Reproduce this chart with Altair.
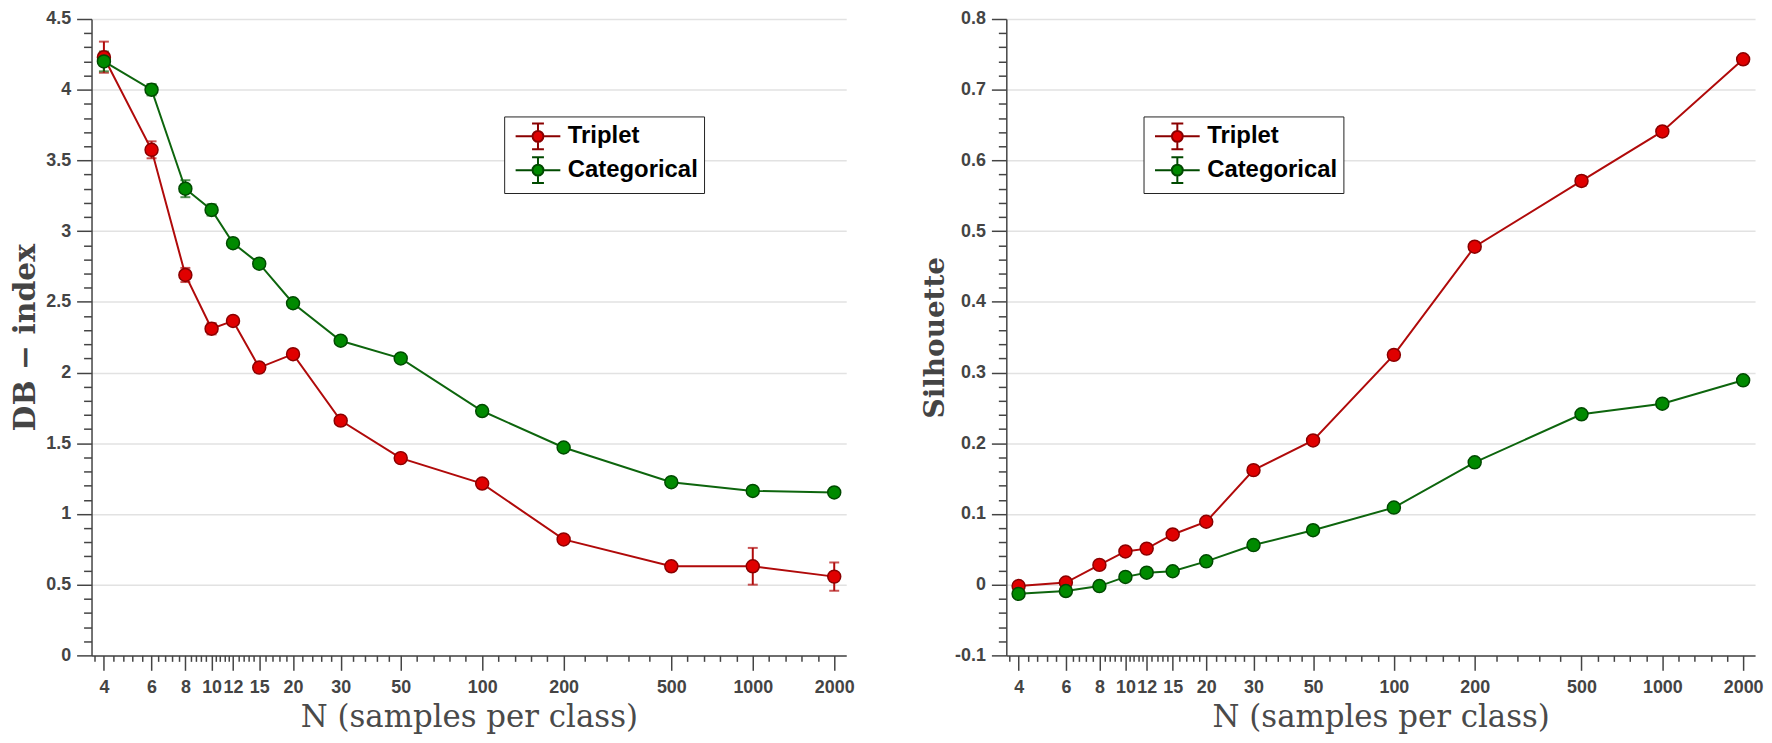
import altair as alt
import pandas as pd

# ---------------- data ----------------
N = [4, 6, 8, 10, 12, 15, 20, 30, 50, 100, 200, 500, 1000, 2000]
series_names = ["Triplet", "Categorical"]

db_triplet = [4.23, 3.575, 2.69, 2.31, 2.365, 2.035, 2.13, 1.66, 1.395, 1.215, 0.82, 0.63, 0.63, 0.557]
db_triplet_err = [0.11, 0.06, 0.05, 0.04, 0.02, 0.03, 0.02, 0.02, 0.02, 0.02, 0.02, 0.02, 0.13, 0.10]
db_categorical = [4.20, 4.00, 3.30, 3.15, 2.915, 2.77, 2.49, 2.225, 2.10, 1.728, 1.47, 1.225, 1.163, 1.152]
db_categorical_err = [0.07, 0.04, 0.06, 0.04, 0.03, 0.03, 0.03, 0.02, 0.02, 0.02, 0.02, 0.02, 0.02, 0.015]

sil_triplet = [-0.002, 0.003, 0.028, 0.047, 0.051, 0.071, 0.089, 0.162, 0.204, 0.325, 0.478, 0.571, 0.641, 0.743]
sil_triplet_err = [0.004, 0.004, 0.004, 0.004, 0.004, 0.004, 0.004, 0.004, 0.004, 0.005, 0.006, 0.007, 0.006, 0.006]
sil_categorical = [-0.013, -0.009, -0.002, 0.011, 0.017, 0.019, 0.033, 0.056, 0.077, 0.109, 0.173, 0.241, 0.256, 0.289]
sil_categorical_err = [0.004, 0.004, 0.004, 0.004, 0.004, 0.004, 0.004, 0.004, 0.004, 0.004, 0.004, 0.004, 0.004, 0.004]

x_major = [4, 6, 8, 10, 12, 15, 20, 30, 50, 100, 200, 500, 1000, 2000]


def make_df(trip, trip_err, cat, cat_err):
    rows = []
    for name, vals, errs in (("Triplet", trip, trip_err), ("Categorical", cat, cat_err)):
        for n, v, e in zip(N, vals, errs):
            rows.append({"N": n, "value": v, "lo": v - e, "hi": v + e, "series": name})
    return pd.DataFrame(rows)


df_db = make_df(db_triplet, db_triplet_err, db_categorical, db_categorical_err)
df_sil = make_df(sil_triplet, sil_triplet_err, sil_categorical, sil_categorical_err)

# ---------------- styling ----------------
# line colours (scale domain is data-sorted: Categorical, Triplet)
LINE_COLORS_SORTED = ["#0d650d", "#b00a0a"]
FILL_COLORS = ["#e00000", "#008a00"]
MARK_STROKE = ["#8a0000", "#004a00"]

AX_COLOR = "#444444"
LABEL_FONT = "Liberation Sans"
TITLE_FONT = "DejaVu Serif"

# minor x ticks: four per interval between labelled ticks (log-evenly spaced)
x_minor = [3.69]
for a, b in zip(x_major[:-1], x_major[1:]):
    for k in range(1, 5):
        x_minor.append(round(a * (b / a) ** (k / 5), 4))
x_values = sorted(x_major + x_minor)
x_test = "indexof([" + ",".join(str(v) for v in x_major) + "], datum.value) >= 0"

# legend glyph: line + error bar with caps + filled circle (unit = half symbol size)
LEG_PATH = ("M-1.73,0L-0.42,0M0.42,0L1.73,0"
            "M0,-0.42L0,-1M-0.46,-1L0.46,-1"
            "M0,0.42L0,1M-0.46,1L0.46,1"
            "M-0.42,0A0.42,0.42 0 1,0 0.42,0A0.42,0.42 0 1,0 -0.42,0Z")


def x_axis():
    return alt.Axis(
        values=x_values,
        labelExpr=f"{x_test} ? toString(datum.value) : ''",
        tickSize={"condition": {"test": x_test, "value": 15}, "value": 6},
        labelOverlap=False,
        labelBound=False,
        labelFlush=False,
        grid=False,
        labelPadding=8,
        title="N (samples per class)",
        titleFont=TITLE_FONT,
        titleFontSize=31,
        titleFontWeight="normal",
        titleColor="#4a4a4a",
        titlePadding=7,
    )


def y_axis(title, values, major_test, tsize):
    return alt.Axis(
        values=values,
        labelExpr=f"({major_test}) ? toString(round(datum.value*10)/10) : ''",
        tickSize={"condition": {"test": major_test, "value": 15}, "value": 8},
        gridOpacity={"condition": {"test": major_test, "value": 1}, "value": 0},
        grid=True,
        labelOverlap=False,
        labelFlush=False,
        labelBound=False,
        labelPadding=6,
        title=title,
        titleFont=TITLE_FONT,
        titleFontSize=tsize,
        titleFontWeight="bold",
        titleColor="#444444",
        titlePadding=5,
    )


def panel(df, ytitle, tsize, ydomain, yvalues, major_test, legx, legy, width):
    xenc = alt.X("N:Q", scale=alt.Scale(type="log", domain=[3.6, 2215], nice=False), axis=x_axis())
    yax = y_axis(ytitle, yvalues, major_test, tsize)
    yscale = alt.Scale(domain=ydomain, nice=False, zero=False)
    color = alt.Color("series:N", scale=alt.Scale(range=LINE_COLORS_SORTED), legend=None)
    legend = alt.Legend(
        title=None,
        orient="none",
        legendX=legx,
        legendY=legy,
        direction="vertical",
        symbolType=LEG_PATH,
        symbolSize=676,
        symbolStrokeWidth=2,
        symbolOffset=14,
        labelFont=LABEL_FONT,
        labelFontSize=24,
        labelFontWeight="bold",
        labelColor="#000000",
        labelOffset=16,
        labelExpr="datum.label + ' '",
        strokeColor="#222222",
        fillColor="#ffffff",
        padding=6,
        rowPadding=0,
    )
    base = alt.Chart(df)
    line = base.mark_line(strokeWidth=2).encode(
        x=xenc,
        y=alt.Y("value:Q", scale=yscale, axis=yax),
        color=color,
        detail="series:N",
    )
    err = base.mark_errorbar(ticks={"size": 10, "thickness": 2}, rule={"strokeWidth": 2}).encode(
        x=xenc,
        y=alt.Y("lo:Q", scale=yscale, axis=yax),
        y2="hi:Q",
        color=color,
    )
    pts = base.mark_circle(size=170, opacity=1, strokeWidth=1.5).encode(
        x=xenc,
        y=alt.Y("value:Q", scale=yscale, axis=yax),
        fill=alt.Fill("series:N", scale=alt.Scale(domain=series_names, range=FILL_COLORS), legend=legend),
        stroke=alt.Stroke("series:N", scale=alt.Scale(domain=series_names, range=MARK_STROKE), legend=legend),
    )
    return alt.layer(line, err, pts).properties(width=width, height=640)


db_vals = [round(i * 0.1, 1) for i in range(46)]
sil_vals = [round(-0.1 + i * 0.02, 2) for i in range(46)]

left = panel(df_db, "DB − index", 30, [0, 4.5], db_vals,
             "abs(datum.value*2 - round(datum.value*2)) < 1e-6", 415, 98, 759)
right = panel(df_sil, "Silhouette", 28, [-0.1, 0.8], sil_vals,
              "abs(datum.value*10 - round(datum.value*10)) < 1e-6", 138, 98, 753)

chart = (
    alt.hconcat(left, right, spacing=67)
    .resolve_scale(color="independent", fill="independent", stroke="independent")
    .properties(padding={"left": 2, "top": 0, "right": 0, "bottom": 0})
    .configure_view(stroke=None)
    .configure_axis(
        domainColor=AX_COLOR,
        domainWidth=1.5,
        tickColor=AX_COLOR,
        tickWidth=1.5,
        gridColor="#e2e2e2",
        gridWidth=1.5,
        labelFont=LABEL_FONT,
        labelFontSize=18,
        labelFontWeight="bold",
        labelColor=AX_COLOR,
    )
)

chart.save("out.html", embed_options={"renderer": "svg", "actions": False})
